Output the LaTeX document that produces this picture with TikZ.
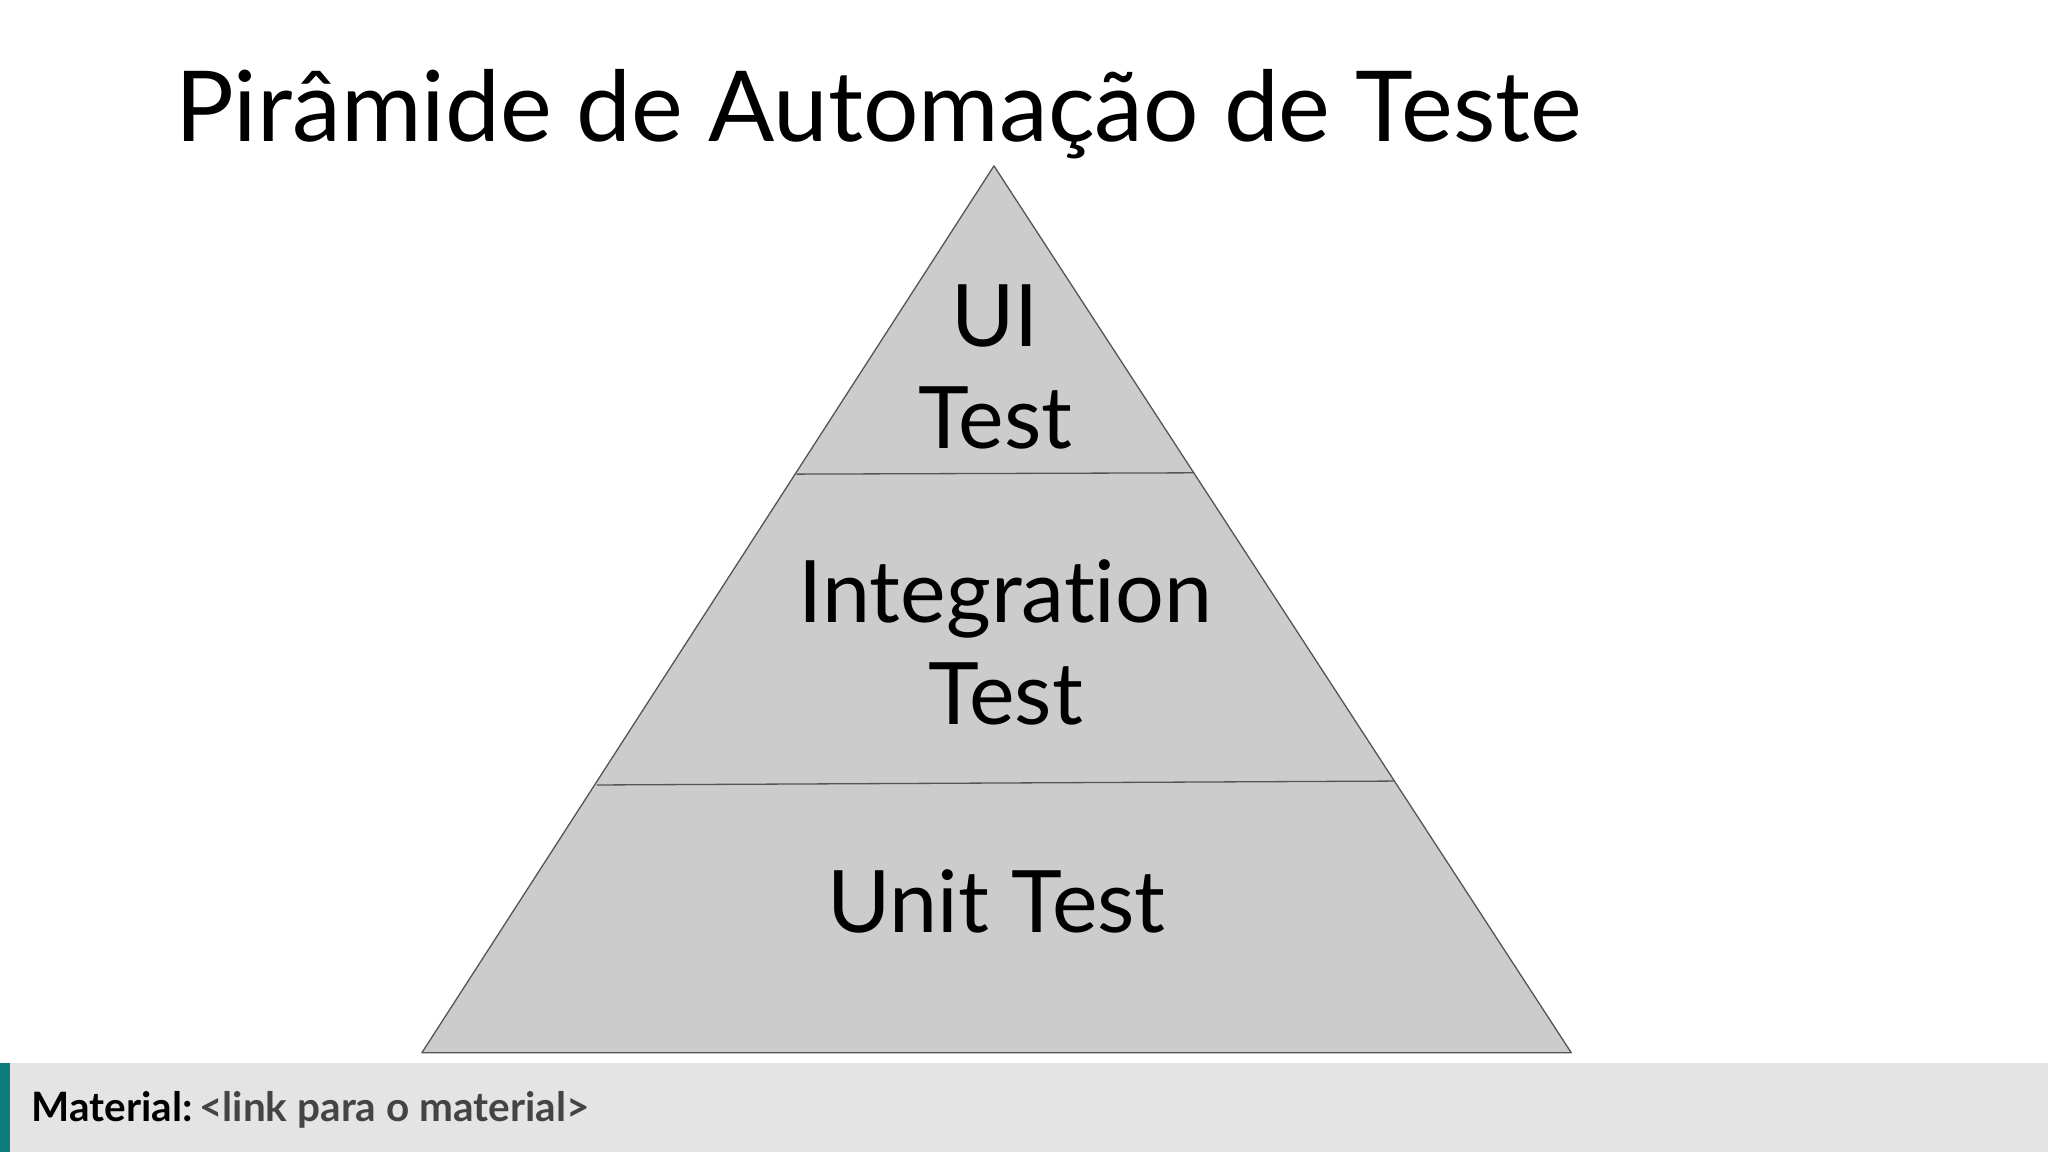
\documentclass[tikz,border=0pt]{standalone}
\usepackage{fontspec}
\setmainfont{Lato}[Ligatures={NoCommon,NoDiscretionary,NoRare}]
\definecolor{pyr}{HTML}{CCCCCC}
\definecolor{edge}{HTML}{555555}
\definecolor{foot}{HTML}{E5E4E5}
\definecolor{teal}{HTML}{0E7C7B}
\definecolor{ftxt}{HTML}{444444}
\begin{document}
\begin{tikzpicture}[x=1pt,y=-1pt,
  lvl/.style={fill=pyr,draw=edge,line width=1pt,line join=round},
  lbl/.style={font=\fontsize{66}{78}\selectfont,align=center,text=black}]
\useasboundingbox (0,0) rectangle (1568,882);
\fill[white] (0,0) rectangle (1568,882);
\coordinate (apex) at (761,127);
\coordinate (bl) at (323,806);
\coordinate (br) at (1203,806);
\coordinate (a1) at (610,363);
\coordinate (a2) at (914,362);
\coordinate (b1) at (457,601);
\coordinate (b2) at (1068,598);
\path[lvl] (apex) -- (br) -- (bl) -- cycle;
\draw[edge,line width=1pt] (a1) -- (a2);
\draw[edge,line width=1pt] (b1) -- (b2);
\node[lbl] (ui) at (762,281) {UI\\Test};
\node[lbl] (int) at (770,492) {Integration\\Test};
\node[lbl] (unit) at (763,690) {Unit Test};
\node[anchor=base west,inner sep=0pt,font=\fontsize{75}{80}\selectfont] (title) at (134,108) {Pirâmide de Automação de Teste};
\fill[foot] (0,814) rectangle (1568,882);
\fill[teal] (0,814) rectangle (8,882);
\node[anchor=base west,inner sep=0pt,font=\fontsize{31}{34}\selectfont\bfseries] (ft) at (24,859) {Material:\,\textcolor{ftxt}{<link para o material>}};
\end{tikzpicture}
\end{document}
